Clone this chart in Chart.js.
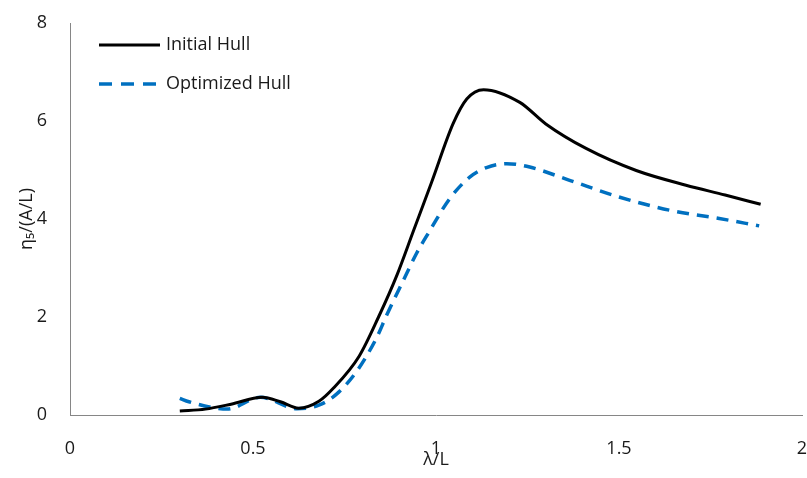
<!DOCTYPE html>
<html>
<head>
<meta charset="utf-8">
<script src="https://cdn.jsdelivr.net/npm/chart.js@4/dist/chart.umd.min.js"></script>
<style>
  body { margin: 0; background: #fff; }
  #wrap { width: 807px; height: 478px; }
</style>
</head>
<body>
<div id="wrap"><canvas id="chart"></canvas></div>
<script>
// series
let seriesNames = ['Initial Hull', 'Optimized Hull'];
let xInitial = [0.30, 0.37, 0.44, 0.525, 0.575, 0.625, 0.68, 0.72, 0.79, 0.843, 0.893, 0.938, 0.988, 1.047, 1.084, 1.13, 1.229, 1.30, 1.41, 1.547, 1.683, 1.79, 1.887];
let yInitial = [0.08, 0.12, 0.22, 0.36, 0.27, 0.14, 0.28, 0.55, 1.2, 2.0, 2.85, 3.75, 4.75, 5.95, 6.45, 6.64, 6.38, 5.94, 5.44, 4.99, 4.69, 4.49, 4.30];
let xOptimized = [0.30, 0.325, 0.40, 0.43, 0.52, 0.62, 0.68, 0.729, 0.784, 0.838, 0.866, 0.911, 0.947, 0.979, 1.038, 1.093, 1.138, 1.193, 1.256, 1.365, 1.50, 1.638, 1.774, 1.883];
let yOptimized = [0.34, 0.27, 0.14, 0.12, 0.36, 0.13, 0.20, 0.43, 0.9, 1.58, 2.05, 2.75, 3.3, 3.71, 4.42, 4.86, 5.05, 5.13, 5.06, 4.79, 4.45, 4.18, 4.01, 3.86];

let xTicks = [0, 0.5, 1, 1.5, 2];
let yTicks = [0, 2, 4, 6, 8];

let font = "'Open Sans', 'Noto Sans', sans-serif";
let textColor = '#1a1a1a';

function toPoints(xs, ys) {
  return xs.map((x, i) => ({ x: x, y: ys[i] }));
}

// legend drawn inside the plot, top left
let insideLegend = {
  id: 'insideLegend',
  afterDraw(chart) {
    let c = chart.ctx;
    let rows = [
      { y: 45, ds: chart.data.datasets[0] },
      { y: 84, ds: chart.data.datasets[1] }
    ];
    c.save();
    rows.forEach(r => {
      c.beginPath();
      c.strokeStyle = r.ds.borderColor;
      c.lineWidth = r.ds.borderWidth;
      c.setLineDash(r.ds.borderDash ? [13, 9] : []);
      c.moveTo(99, r.y);
      c.lineTo(160, r.y);
      c.stroke();
      c.setLineDash([]);
      c.fillStyle = textColor;
      c.font = '18px ' + font;
      c.textBaseline = 'middle';
      c.fillText(r.ds.label, 166, r.y);
    });
    c.restore();
  }
};

let ctx = document.getElementById('chart').getContext('2d');
let chart = new Chart(ctx, {
  type: 'line',
  data: {
    datasets: [{
      label: seriesNames[0],
      data: toPoints(xInitial, yInitial),
      borderColor: '#000000',
      borderWidth: 3,
      pointRadius: 0,
      cubicInterpolationMode: 'monotone',
      fill: false
    }, {
      label: seriesNames[1],
      data: toPoints(xOptimized, yOptimized),
      borderColor: '#0070C0',
      borderWidth: 3.5,
      borderDash: [12, 8],
      pointRadius: 0,
      cubicInterpolationMode: 'monotone',
      fill: false
    }]
  },
  options: {
    responsive: true,
    maintainAspectRatio: false,
    animation: false,
    layout: { padding: { top: 0, left: 0, right: 0, bottom: 0 } },
    plugins: { legend: { display: false }, tooltip: { enabled: false } },
    scales: {
      x: {
        type: 'linear',
        min: 0, max: 2,
        afterBuildTicks: s => { s.ticks = xTicks.map(v => ({ value: v })); },
        afterFit: s => { s.height = 63; s.paddingRight = 5; },
        grid: { display: false, drawTicks: false },
        border: { color: '#868686', width: 1 },
        ticks: { color: textColor, font: { family: font, size: 18 }, padding: 23, maxRotation: 0, callback: v => String(v) },
        title: { display: true, text: 'λ/L', color: textColor, font: { family: font, size: 18 }, padding: { top: 0, bottom: 7 } }
      },
      y: {
        min: 0, max: 8,
        afterBuildTicks: s => { s.ticks = yTicks.map(v => ({ value: v })); },
        afterFit: s => { s.width = 70; s.paddingTop = 23; s.paddingBottom = 0; },
        grid: { display: false, drawTicks: false },
        border: { color: '#868686', width: 1 },
        ticks: { color: textColor, font: { family: font, size: 18 }, padding: 23, callback: v => String(v) },
        title: { display: true, text: 'η₅/(A/L)', color: textColor, font: { family: font, size: 18 }, padding: { top: 16, bottom: 0 } }
      }
    }
  },
  plugins: [insideLegend]
});
</script>
</body>
</html>
